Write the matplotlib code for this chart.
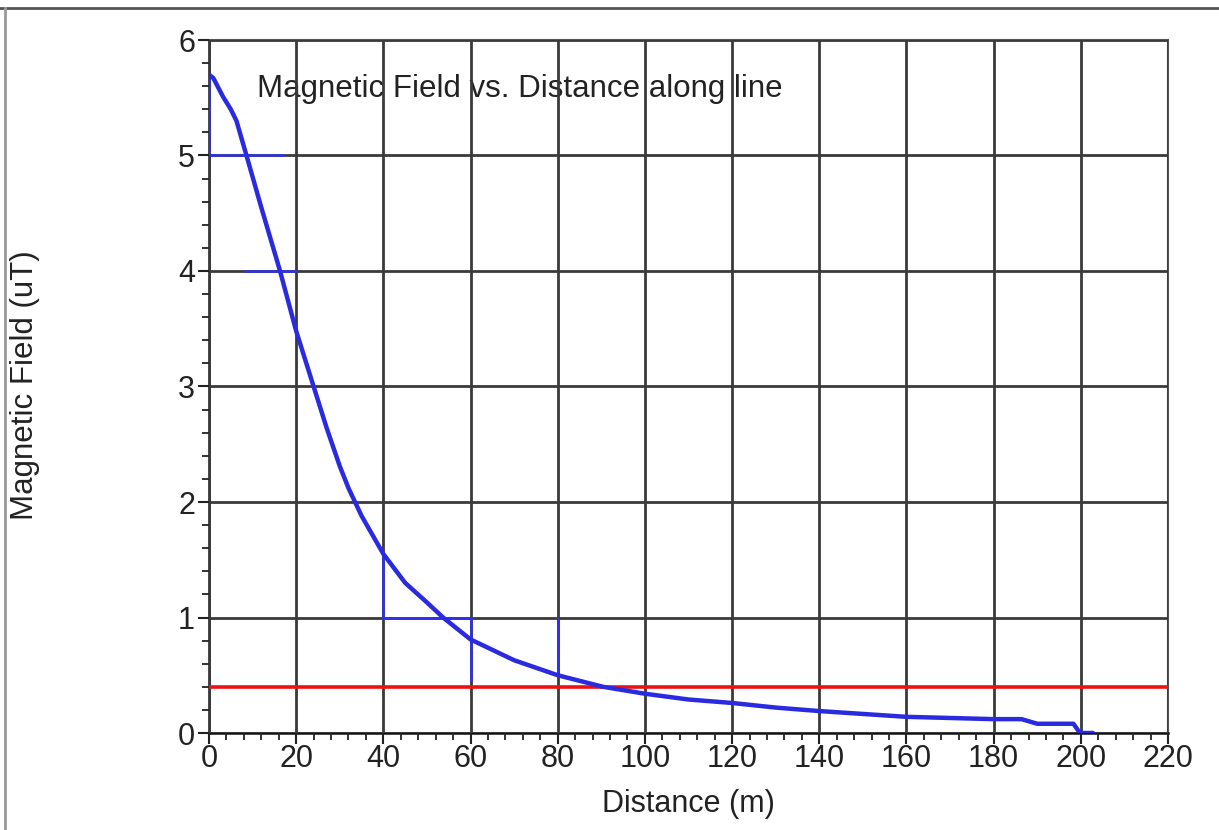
import numpy as np
import matplotlib.pyplot as plt
from matplotlib.lines import Line2D

plt.rcParams["font.family"] = ["Liberation Sans", "DejaVu Sans"]

# field along the line
distance = [0, 1, 3.2, 5, 6.3, 8.6, 12, 16.3, 20, 24, 27, 30, 32, 35, 40, 45, 50, 53.7,
            60, 70, 80, 90.4, 100, 110, 120, 130, 140, 150, 160, 170, 180, 186.4, 190,
            198.3, 199.8, 202.8]
field = [5.70, 5.67, 5.51, 5.40, 5.30, 5.0, 4.55, 4.0, 3.48, 3.0, 2.64, 2.31, 2.12, 1.88, 1.55,
         1.30, 1.13, 1.0, 0.81, 0.63, 0.50, 0.40, 0.34, 0.29, 0.26, 0.22, 0.19, 0.165, 0.14,
         0.13, 0.12, 0.12, 0.08, 0.08, 0.0, 0.0]
limit = 0.4

# stray marker segments: x0, x1, y0, y1
seg_x0 = [0, 0, 8.3, 40, 40, 60, 80]
seg_x1 = [0, 17, 20, 40, 60, 60, 80]
seg_y0 = [5.0, 5, 4, 1, 1, 0.46, 0.5]
seg_y1 = [5.7, 5, 4, 1.55, 1, 1, 1]

fig = plt.figure(figsize=(12.19, 8.30), dpi=100)
ax = fig.add_axes([209/1219, 97/830, 959/1219, 693/830])

ax.plot(distance, field, color="#2a2ae0", linewidth=3.2, solid_capstyle="round", zorder=4)
for a, b, c, d in zip(seg_x0, seg_x1, seg_y0, seg_y1):
    ax.plot([a, b], [c, d], color="#3030ee", linewidth=1.8, zorder=3)
ax.axhline(limit, color="#ee1111", linewidth=2.6, zorder=3)

ax.set_xlim(0, 220)
ax.set_ylim(0, 6)
ax.set_xticks(np.arange(0, 221, 20))
ax.set_yticks(np.arange(0, 7, 1))
ax.set_xticks(np.arange(0, 221, 4), minor=True)
ax.set_yticks(np.arange(0, 6.01, 0.2), minor=True)
ax.tick_params(axis="both", which="major", labelsize=22, direction="out", length=8,
               width=1.5, colors="#222222", pad=2)
ax.tick_params(axis="x", which="major", pad=0)
ax.tick_params(axis="both", which="minor", direction="out", length=5, width=1.3,
               colors="#222222")
ax.set_axisbelow(False)
ax.grid(True, which="major", color="#3a3a3a", linewidth=2)
for s in ["top", "right"]:
    ax.spines[s].set_color("#555555")
    ax.spines[s].set_linewidth(1.5)
for s in ["left", "bottom"]:
    ax.spines[s].set_color("#111111")
    ax.spines[s].set_linewidth(1.8)

ax.text(11, 5.51, "Magnetic Field vs. Distance along line", fontsize=22.5,
        color="#222222", zorder=1)
fig.text(688/1219, 1 - 804/830, "Distance (m)", fontsize=22, color="#222222",
         ha="center", va="center")
fig.text(25/1219, 1 - 385/830, "Magnetic Field (uT)", fontsize=22.5, color="#222222",
         ha="center", va="center", rotation=90)

# page border lines
fig.add_artist(Line2D([0, 1], [1 - 8/830, 1 - 8/830], color="#555555", linewidth=2))
fig.add_artist(Line2D([5/1219, 5/1219], [0, 1 - 8/830], color="#999999", linewidth=2))

plt.savefig("out.png", dpi=100)
plt.close()
